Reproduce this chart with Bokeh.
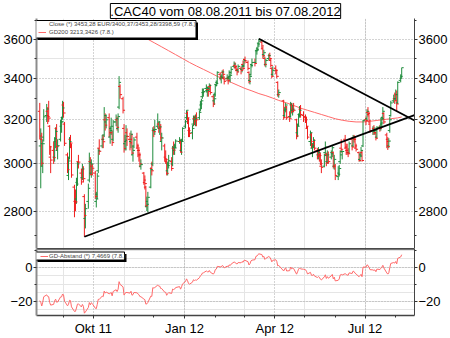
import numpy as np
import pandas as pd
from bokeh.plotting import figure
from bokeh.layouts import column
from bokeh.models import (Range1d, LogAxis, LinearAxis, DatetimeAxis, FixedTicker, Grid,
                          ColumnDataSource, Legend, LegendItem, BoxAnnotation, Title,
                          CustomJSTickFormatter)
from bokeh.embed import file_html
from bokeh.resources import INLINE

# ---------------- data, one row per trading week ----------------
opens = [
    3240, 3080, 3110, 2990, 3120,  3220, 3240, 3220, 3170, 3030,  3060, 3030, 3100, 3160, 3060,
    3110, 3170, 3210, 3270, 3180,  3040, 2950, 3030, 3110, 3080,  2900, 2840, 2850, 2920, 3010,
    2960, 2940, 2975, 2860, 2770,  2840, 2930, 3010, 2960, 2990,  2960, 2840, 2870, 2970, 3070,
    3080, 3110, 3130, 3200, 3190,  3210, 3120, 3160, 3140, 3110,  3190, 3200, 3160, 3260, 3360,
    3300, 3160, 3090, 3100, 3140,  3110, 3100, 3110, 3040, 3080,  3120, 3070, 3060, 3040, 2990,
    2960, 2920, 2900, 2820, 2840,  2900, 2980, 3000, 3150, 3150,  3170, 3180, 3160, 3160, 3100,
    3080, 3030, 3010, 2970, 3000,  3010, 3000, 3070, 3060, 3080,  3100, 3100, 3060, 3110,
    3170, 3210, 3230, 3200, 3150,  3140, 3180, 3205, 3200, 3210,  3210, 3250, 3270, 3310, 3330,
    3350, 3340, 3345, 3350, 3360,  3310, 3290, 3320, 3370, 3380,  3420, 3400, 3410, 3430, 3400,
    3400, 3400, 3400, 3410, 3430,  3460, 3465, 3455, 3440, 3440,  3450, 3445, 3470, 3460, 3495,
    3480, 3430, 3390, 3420, 3470,  3480, 3480, 3540, 3550, 3580,  3585, 3550, 3520, 3500, 3470,
    3500, 3515, 3490, 3450, 3420,  3450, 3440, 3380, 3320,  3290, 3220, 3245, 3260,
    3215, 3215, 3270, 3245, 3250,  3200, 3140, 3180, 3225, 3250,  3220, 3215, 3200, 3160,
    3100, 3130, 3070, 3090, 3100,  3060, 3040, 3040, 3040, 2990,  2990, 3050, 3040, 3010, 3040,
    3030, 3050, 3050, 2990, 2990,  2945, 2960, 3010, 3070, 3040,  3110, 3070, 3060, 3050, 3050,
    3110, 3080, 3115, 3110, 3070,  3050, 3020, 3040, 3050, 3080,  3200, 3205, 3235, 3225, 3180,
    3150, 3160, 3145, 3140, 3120,  3165, 3170, 3180, 3210, 3230,  3130, 3110, 3080, 3150, 3220,
    3290, 3300, 3300, 3320, 3280,  3390, 3400.37,
]
highs = [
    3280, 3160, 3140, 3110, 3250,  3275, 3260, 3290, 3175, 3080,  3100, 3120, 3165, 3180, 3110,
    3200, 3215, 3290, 3285, 3190,  3050, 3030, 3120, 3130, 3090,  2910, 2890, 2940, 3010, 3040,
    2980, 3000, 2990, 2870, 2830,  2915, 3050, 3030, 3020, 3000,  2970, 2880, 2960, 3070, 3110,
    3130, 3130, 3260, 3230, 3225,  3230, 3170, 3210, 3150, 3200,  3225, 3215, 3230, 3411, 3370,
    3310, 3180, 3130, 3175, 3160,  3140, 3150, 3135, 3080, 3120,  3140, 3090, 3075, 3050, 3020,
    2965, 2950, 2905, 2860, 2880,  2985, 3010, 3165, 3170, 3200,  3230, 3190, 3195, 3180, 3140,
    3090, 3060, 3020, 3010, 3040,  3030, 3080, 3100, 3090, 3110,  3120, 3110, 3110, 3165,
    3200, 3245, 3240, 3210, 3165,  3175, 3220, 3220, 3225, 3235,  3245, 3290, 3300, 3350, 3350,
    3370, 3360, 3360, 3375, 3370,  3320, 3330, 3370, 3390, 3435,  3430, 3420, 3440, 3445, 3410,
    3420, 3410, 3440, 3425, 3460,  3485, 3480, 3465, 3450, 3470,  3460, 3470, 3490, 3500, 3510,
    3490, 3435, 3420, 3470, 3500,  3500, 3545, 3560, 3580, 3603,  3595, 3560, 3545, 3510, 3500,
    3525, 3530, 3500, 3455, 3460,  3465, 3445, 3385, 3345,  3295, 3260, 3280, 3265,
    3240, 3285, 3280, 3270, 3280,  3205, 3180, 3230, 3265, 3270,  3240, 3225, 3215, 3170,
    3150, 3140, 3090, 3120, 3110,  3070, 3075, 3060, 3050, 3020,  3045, 3100, 3050, 3060, 3055,
    3060, 3080, 3055, 3040, 3000,  2990, 2995, 3060, 3110, 3060,  3130, 3090, 3090, 3070, 3100,
    3120, 3130, 3130, 3125, 3090,  3055, 3050, 3075, 3060, 3200,  3215, 3250, 3260, 3240, 3190,
    3170, 3175, 3165, 3145, 3170,  3175, 3210, 3215, 3260, 3235,  3140, 3120, 3115, 3215, 3290,
    3320, 3330, 3345, 3340, 3385,  3420, 3453.28,
]
lows = [
    3110, 2895, 2990, 2960, 3100,  3190, 3180, 3190, 3040, 2960,  3000, 3010, 3070, 3060, 3020,
    3100, 3140, 3200, 3210, 3080,  2960, 2930, 3020, 3070, 2940,  2775, 2800, 2830, 2905, 2980,
    2910, 2930, 2920, 2697, 2730,  2810, 2920, 2950, 2940, 2950,  2850, 2815, 2850, 2960, 3040,
    3070, 3070, 3120, 3150, 3160,  3120, 3090, 3130, 3080, 3100,  3170, 3150, 3140, 3250, 3300,
    3230, 3050, 3060, 3060, 3080,  3060, 3070, 3040, 3010, 3070,  3070, 3030, 3010, 2985, 2975,
    2910, 2890, 2815, 2800, 2795,  2895, 2950, 2990, 3120, 3130,  3160, 3140, 3130, 3100, 3060,
    3010, 3000, 2950, 2950, 2980,  2970, 2990, 3040, 3040, 3070,  3090, 3050, 3040, 3100,
    3160, 3200, 3180, 3120, 3120,  3110, 3170, 3175, 3170, 3170,  3200, 3240, 3250, 3300, 3310,
    3330, 3310, 3310, 3340, 3320,  3260, 3270, 3310, 3360, 3370,  3390, 3375, 3400, 3400, 3370,
    3390, 3370, 3390, 3380, 3420,  3450, 3445, 3435, 3415, 3430,  3420, 3430, 3440, 3455, 3475,
    3440, 3375, 3370, 3415, 3455,  3460, 3475, 3520, 3540, 3560,  3550, 3500, 3505, 3460, 3455,
    3490, 3490, 3455, 3400, 3410,  3420, 3400, 3310, 3305,  3200, 3210, 3235, 3200,
    3190, 3210, 3230, 3220, 3235,  3110, 3120, 3170, 3210, 3210,  3190, 3185, 3160, 3110,
    3080, 3070, 3030, 3070, 3060,  3020, 3020, 3010, 2995, 2960,  2985, 3040, 2990, 3000, 3000,
    3020, 3030, 2980, 2975, 2930,  2930, 2945, 3000, 3050, 3020,  3070, 3040, 3040, 3030, 3045,
    3060, 3075, 3095, 3070, 3055,  3010, 3010, 3030, 3010, 3075,  3175, 3195, 3215, 3185, 3140,
    3130, 3130, 3130, 3105, 3115,  3145, 3150, 3165, 3200, 3180,  3070, 3062, 3070, 3140, 3215,
    3280, 3275, 3290, 3240, 3275,  3380, 3398.59,
]
closes = [
    3125, 3090, 3003, 3090, 3214,  3251, 3215, 3208, 3076, 3017,  3028, 3113, 3146, 3077, 3081,
    3189, 3191, 3256, 3232, 3092,  2975, 3013, 3100, 3093, 2952,  2836, 2838, 2913, 3000, 3008,
    2922, 2978, 2936, 2782, 2810,  2895, 3005, 2954, 3000, 2981,  2861, 2850, 2947, 3058, 3056,
    3110, 3099, 3220, 3175, 3200,  3140, 3150, 3170, 3095, 3190,  3205, 3165, 3215, 3380, 3320,
    3245, 3068, 3106, 3124, 3123,  3094, 3133, 3048, 3060, 3107,  3080, 3060, 3040, 3000, 2997,
    2930, 2915, 2822, 2828, 2857,  2975, 2970, 3154, 3145, 3155,  3190, 3166, 3167, 3117, 3116,
    3023, 3020, 2959, 2993, 3014,  2980, 3072, 3061, 3071, 3102,  3104, 3052, 3100, 3160,
    3191, 3245, 3209, 3150, 3137,  3160, 3210, 3195, 3205, 3200,  3235, 3275, 3290, 3330, 3335,
    3355, 3340, 3335, 3365, 3330,  3275, 3300, 3365, 3375, 3430,  3405, 3405, 3432, 3420, 3385,
    3405, 3390, 3430, 3415, 3445,  3472, 3460, 3443, 3432, 3460,  3440, 3465, 3450, 3490, 3488,
    3450, 3385, 3410, 3465, 3480,  3475, 3540, 3545, 3575, 3590,  3565, 3515, 3530, 3470, 3490,
    3515, 3500, 3465, 3410, 3440,  3440, 3410, 3320, 3330,  3210, 3250, 3270, 3210,
    3205, 3275, 3240, 3250, 3245,  3125, 3170, 3220, 3245, 3225,  3210, 3200, 3170, 3120,
    3140, 3085, 3080, 3105, 3070,  3033, 3050, 3037, 3001, 2985,  3037, 3075, 3005, 3040, 3010,
    3045, 3072, 2990, 3020, 2950,  2955, 2980, 3055, 3065, 3055,  3075, 3060, 3050, 3045, 3090,
    3075, 3120, 3110, 3080, 3065,  3015, 3035, 3060, 3015, 3196,  3196, 3240, 3230, 3195, 3150,
    3150, 3140, 3150, 3115, 3165,  3160, 3185, 3205, 3240, 3190,  3100, 3078, 3102, 3200, 3280,
    3300, 3290, 3320, 3275, 3380,  3410, 3453.28,
]
# 200-day average, one value per calendar week (weeks starting 08.08.2011)
gd200_weekly = [
    3885, 3878, 3870, 3860, 3845, 3828, 3808, 3788, 3765, 3742, 3717, 3690, 3665, 3645,
    3622, 3600, 3580, 3560, 3540, 3520, 3500, 3480, 3462, 3445, 3428, 3410, 3395, 3380,
    3365, 3350, 3338, 3325, 3315, 3303, 3292, 3280, 3268, 3255, 3245, 3235, 3225, 3215,
    3205, 3198, 3193, 3190, 3190, 3193, 3197, 3201, 3205, 3209, 3213.34,
]
# hand-drawn trend lines (triangle)
trend_low_t = ["2011-09-22 00:00", "2012-08-19 22:00"]
trend_low_v = [2697, 3222]
trend_high_t = ["2012-03-16 00:00", "2012-08-19 22:00"]
trend_high_v = [3603, 3197]

holidays = ["2011-12-26", "2012-04-06", "2012-04-09", "2012-05-01"]
y_ticks = [2800, 3000, 3200, 3400, 3600]
y_minor = [2700, 2900, 3100, 3300, 3500, 3700]
d_ticks = [-20, 0]
d_minor = [-30, -10, 10]
title_text = ".CAC40 vom 08.08.2011 bis 07.08.2012"
legend_close = "Close (*) 3453,28 EUR/3400,37/3453,28/3398,59 (7.8.)"
legend_gd = "GD200 3213,3426 (7.8.)"
legend_abst = "GD-Abstand (*) 7,4669 (7.8.)"

# ---------------- derived ----------------
dates = pd.bdate_range("2011-08-08", "2012-08-07")
dates = dates[~dates.isin(pd.to_datetime(holidays))]
n = min(len(dates), len(opens), len(highs), len(lows), len(closes))
dates = dates[:n]
o = np.array(opens[:n], float); h = np.array(highs[:n], float)
l = np.array(lows[:n], float); c = np.array(closes[:n], float)
week = ((dates - pd.Timestamp("2011-08-08")).days // 7).values
gd_day = np.array(gd200_weekly)[week]
abst = (c / gd_day - 1.0) * 100.0

GREEN = "#1e8c3c"
RED = "#f01e1e"
cols = [GREEN if cc >= oo else RED for oo, cc in zip(o, c)]
src = ColumnDataSource(dict(t=dates, o=o, h=h, l=l, c=c, col=cols))

wk = pd.DataFrame({"t": dates, "w": week}).groupby("w")["t"].max()
gd_src = ColumnDataSource(dict(t=wk.values, v=np.array(gd200_weekly)[wk.index.values]))

FONT = "Liberation Sans"
GRID_COL = "#a8a8a8"
x_range = Range1d(pd.Timestamp("2011-08-04 17:00"), pd.Timestamp("2012-08-19 22:00"))

quarters = [pd.Timestamp(s) for s in ["2011-10-01", "2012-01-01", "2012-04-01", "2012-07-01"]]
months = list(pd.date_range("2011-09-01", "2012-08-01", freq="MS"))
q_ms = [t.value / 1e6 for t in quarters]
m_ms = [t.value / 1e6 for t in months]

# ---------------- main chart ----------------
p = figure(width=450, height=248, x_axis_type="datetime", y_axis_type="log",
           x_range=x_range, y_range=Range1d(2651, 3711),
           x_axis_location=None, y_axis_location=None,
           output_backend="svg", toolbar_location=None,
           min_border_left=34, min_border_right=33, min_border_top=18, min_border_bottom=0)
p.outline_line_color = None
p.background_fill_color = "white"
p.title = Title(text=title_text, align="center", text_font=FONT, text_font_size="13px",
                text_font_style="normal", text_color="black", border_line_color="black",
                background_fill_color="white", standoff=0, offset=0)

p.add_layout(Grid(dimension=1, ticker=FixedTicker(ticks=y_ticks), grid_line_color=GRID_COL,
                  grid_line_dash="1 2", grid_line_width=1))
p.add_layout(Grid(dimension=0, ticker=FixedTicker(ticks=q_ms), grid_line_color=GRID_COL,
                  grid_line_dash="1 2", grid_line_width=1))

def style_axis(ax, line_color, line_width):
    ax.axis_line_color = line_color
    ax.axis_line_width = line_width
    ax.major_tick_out = 3
    ax.major_tick_in = 0
    ax.minor_tick_out = 2
    ax.minor_tick_in = 0
    ax.major_tick_line_color = "#333333"
    ax.minor_tick_line_color = "#333333"
    ax.major_label_standoff = 1
    ax.major_label_text_font = FONT
    ax.major_label_text_font_size = "13px"
    ax.major_label_text_color = "black"

ly = LogAxis(ticker=FixedTicker(ticks=y_ticks, minor_ticks=y_minor))
style_axis(ly, "#8c8c8c", 2)
p.add_layout(ly, "left")
ry = LogAxis(ticker=FixedTicker(ticks=y_ticks, minor_ticks=y_minor))
style_axis(ry, "#444444", 1)
p.add_layout(ry, "right")

gd_r = p.line(x="t", y="v", source=gd_src, line_color="#ff6a6a", line_width=1)
p.segment(x0="t", y0="l", x1="t", y1="h", color="col", line_width=1, source=src)
p.ray(x="t", y="o", length=2, length_units="screen", angle=np.pi, color="col",
      line_width=1, source=src)
p.ray(x="t", y="c", length=2, length_units="screen", angle=0, color="col",
      line_width=1, source=src)
p.line(x=pd.to_datetime(trend_low_t), y=trend_low_v, line_color="black", line_width=1.8)
p.line(x=pd.to_datetime(trend_high_t), y=trend_high_v, line_color="black", line_width=1.8)
sq_r = p.scatter(x=[], y=[], marker="square", size=6, fill_color=None, line_color="black")

# legend frame with drop shadow (canvas pixels)
p.add_layout(BoxAnnotation(left=37, right=197.5, top=22, bottom=39.5, left_units="canvas",
                           right_units="canvas", top_units="canvas", bottom_units="canvas",
                           fill_color="black", fill_alpha=1, line_color=None))
p.add_layout(BoxAnnotation(left=35, right=195.5, top=20, bottom=37.5, left_units="canvas",
                           right_units="canvas", top_units="canvas", bottom_units="canvas",
                           fill_color="white", fill_alpha=1, line_color="black",
                           line_width=1, line_alpha=1))
leg = Legend(items=[LegendItem(label=legend_close, renderers=[sq_r]),
                    LegendItem(label=legend_gd, renderers=[gd_r])],
             location="top_left", margin=1, padding=1, spacing=0,
             label_text_font=FONT, label_text_font_size="6px", label_height=8,
             glyph_height=8, glyph_width=8, label_standoff=3,
             border_line_alpha=0, background_fill_alpha=0)
p.add_layout(leg)

# ---------------- lower chart (GD-Abstand) ----------------
q = figure(width=450, height=90, x_axis_type="datetime", x_range=x_range,
           y_range=Range1d(-28.3, 11.1), x_axis_location=None, y_axis_location=None,
           output_backend="svg", toolbar_location=None,
           min_border_left=34, min_border_right=33, min_border_top=0, min_border_bottom=19)
q.outline_line_color = None
q.add_layout(Grid(dimension=1, ticker=FixedTicker(ticks=d_ticks), grid_line_color=GRID_COL,
                  grid_line_dash="1 2", grid_line_width=1))
q.add_layout(Grid(dimension=0, ticker=FixedTicker(ticks=q_ms), grid_line_color=GRID_COL,
                  grid_line_dash="1 2", grid_line_width=1))

sep = LinearAxis(ticker=FixedTicker(ticks=[]), axis_line_color="#4a4a4a", axis_line_width=2.5,
                 major_tick_out=0, major_tick_in=0, minor_tick_out=0, minor_tick_in=0,
                 major_label_standoff=0, major_label_text_font_size="0px")
q.add_layout(sep, "above")

la = LinearAxis(ticker=FixedTicker(ticks=d_ticks, minor_ticks=d_minor))
style_axis(la, "#8c8c8c", 2)
q.add_layout(la, "left")
ra = LinearAxis(ticker=FixedTicker(ticks=d_ticks, minor_ticks=d_minor))
style_axis(ra, "#444444", 1)
q.add_layout(ra, "right")

fmt = CustomJSTickFormatter(code="""
const d = new Date(tick);
const names = ["Jan","Feb","M\u00e4r","Apr","Mai","Jun","Jul","Aug","Sep","Okt","Nov","Dez"];
return names[d.getUTCMonth()] + " " + String(d.getUTCFullYear()).slice(2);
""")
bx = DatetimeAxis(ticker=FixedTicker(ticks=q_ms, minor_ticks=m_ms), formatter=fmt)
style_axis(bx, "#444444", 1.5)
bx.major_label_standoff = 2
q.add_layout(bx, "below")

ab_r = q.line(x=dates, y=abst, line_color="#ff6a6a", line_width=1)

q.add_layout(BoxAnnotation(left=37, right=126, top=5.5, bottom=13.5, left_units="canvas",
                           right_units="canvas", top_units="canvas", bottom_units="canvas",
                           fill_color="black", fill_alpha=1, line_color=None))
q.add_layout(BoxAnnotation(left=35, right=124, top=3.5, bottom=11.5, left_units="canvas",
                           right_units="canvas", top_units="canvas", bottom_units="canvas",
                           fill_color="white", fill_alpha=1, line_color="black",
                           line_width=1, line_alpha=1))
leg2 = Legend(items=[LegendItem(label=legend_abst, renderers=[ab_r])],
              location="top_left", margin=1, padding=3, spacing=0,
              label_text_font=FONT, label_text_font_size="6px", label_height=8,
              glyph_height=8, glyph_width=8, label_standoff=1,
              border_line_alpha=0, background_fill_alpha=0)
q.add_layout(leg2)

layout = column(p, q, spacing=0)
open("out.html", "w").write(file_html(layout, INLINE))
